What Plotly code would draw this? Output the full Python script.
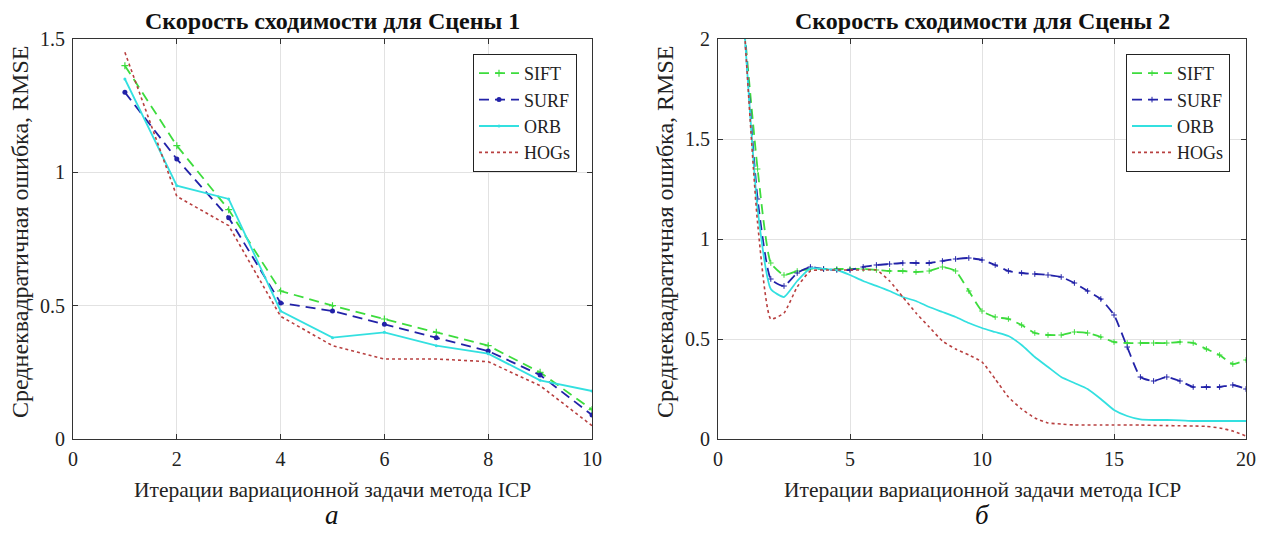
import plotly.graph_objects as go

# ---------------- Scene 1 data ----------------
x1 = [1, 2, 3, 4, 5, 6, 7, 8, 9, 10]
sift1 = [1.40, 1.10, 0.86, 0.555, 0.50, 0.45, 0.40, 0.35, 0.25, 0.11]
surf1 = [1.30, 1.05, 0.83, 0.51, 0.48, 0.43, 0.38, 0.33, 0.24, 0.09]
orb1 = [1.35, 0.95, 0.90, 0.48, 0.38, 0.40, 0.35, 0.32, 0.22, 0.18]
hog1 = [1.45, 0.91, 0.80, 0.46, 0.35, 0.30, 0.30, 0.29, 0.20, 0.05]

# ---------------- Scene 2 data ----------------
x2 = [1, 1.5, 2, 2.5, 3, 3.5, 4, 4.5, 5, 5.5, 6, 6.5, 7, 7.5, 8, 8.5, 9, 9.5, 10,
      10.5, 11, 11.5, 12, 12.5, 13, 13.5, 14, 14.5, 15, 15.5, 16, 16.5, 17, 17.5,
      18, 18.5, 19, 19.5, 20]
sift2 = [2.05, 1.35, 0.88, 0.82, 0.84, 0.85, 0.85, 0.85, 0.85, 0.85, 0.845, 0.84,
         0.84, 0.835, 0.84, 0.86, 0.84, 0.74, 0.64, 0.61, 0.60, 0.57, 0.53, 0.52,
         0.52, 0.535, 0.53, 0.51, 0.485, 0.48, 0.48, 0.48, 0.48, 0.485, 0.48, 0.45,
         0.42, 0.375, 0.395]
surf2 = [2.05, 1.20, 0.80, 0.765, 0.83, 0.86, 0.85, 0.845, 0.845, 0.86, 0.87, 0.875,
         0.88, 0.88, 0.88, 0.89, 0.90, 0.905, 0.895, 0.87, 0.84, 0.83, 0.825, 0.82,
         0.81, 0.78, 0.74, 0.70, 0.62, 0.46, 0.31, 0.29, 0.31, 0.29, 0.26, 0.26,
         0.26, 0.27, 0.25]
orb2 = [2.05, 1.15, 0.75, 0.71, 0.79, 0.853, 0.85, 0.845, 0.82, 0.79, 0.766, 0.74,
        0.71, 0.69, 0.66, 0.635, 0.61, 0.58, 0.555, 0.535, 0.515, 0.47, 0.41, 0.36,
        0.31, 0.28, 0.25, 0.20, 0.145, 0.115, 0.098, 0.095, 0.095, 0.093, 0.09,
        0.09, 0.09, 0.09, 0.09]
hog2 = [2.05, 1.08, 0.60, 0.63, 0.76, 0.84, 0.845, 0.845, 0.845, 0.845, 0.845, 0.79,
        0.71, 0.63, 0.56, 0.49, 0.45, 0.42, 0.385, 0.30, 0.21, 0.15, 0.105, 0.08,
        0.075, 0.07, 0.07, 0.07, 0.07, 0.07, 0.07, 0.068, 0.067, 0.066, 0.065,
        0.063, 0.055, 0.04, 0.015]

names = ["SIFT", "SURF", "ORB", "HOGs"]
titles = ["Скорость сходимости для Сцены 1", "Скорость сходимости для Сцены 2"]
xlabel = "Итерации вариационной задачи метода ICP"
ylabel = "Среднеквадратичная ошибка, RMSE"
panel_labels = ["а", "б"]

colors = {"SIFT": "#3ddc3d", "SURF": "#2222a8", "ORB": "#33e0e0", "HOGs": "#b84040"}
dashes = {"SIFT": "10px,6px", "SURF": "10px,6px", "ORB": "solid", "HOGs": "dot"}

FONT = "Liberation Serif, Times New Roman, serif"

# The page has an 8px body margin; figure is sized to fit within the window.
W, H, OFF = 1250, 524, 8


def px(X):
    return (X - OFF) / W


def py(Y):
    return 1 - (Y - OFF) / H


fig = go.Figure()

left = {"SIFT": sift1, "SURF": surf1, "ORB": orb1, "HOGs": hog1}
lmark = {"SIFT": dict(symbol="cross-thin", size=5, line=dict(width=1.2, color=colors["SIFT"])),
         "SURF": dict(symbol="circle", size=5, color=colors["SURF"]),
         "ORB": dict(symbol="circle", size=3, color=colors["ORB"]),
         "HOGs": None}
for n in names:
    fig.add_trace(go.Scatter(
        x=x1, y=left[n], name=n, xaxis="x", yaxis="y", legend="legend",
        mode="lines+markers" if lmark[n] else "lines",
        line=dict(color=colors[n], width=1.8 if n != "HOGs" else 1.6, dash=dashes[n]),
        marker=lmark[n] if lmark[n] else None,
    ))

right = {"SIFT": sift2, "SURF": surf2, "ORB": orb2, "HOGs": hog2}
for n in names:
    mk = n in ("SIFT", "SURF")
    fig.add_trace(go.Scatter(
        x=x2, y=right[n], name=n, xaxis="x2", yaxis="y2", legend="legend2",
        mode="lines+markers" if mk else "lines",
        line=dict(color=colors[n], width=1.8 if n != "HOGs" else 1.6, dash=dashes[n],
                  shape="spline", smoothing=0.5),
        marker=dict(symbol="cross-thin", size=4, line=dict(width=1, color=colors[n])) if mk else None,
    ))

ydom = [py(439), py(39)]
axis_common = dict(
    showline=True, linecolor="#333", linewidth=1, mirror="ticks",
    ticks="inside", ticklen=5, tickcolor="#333", automargin=False,
    showgrid=True, gridcolor="#e2e2e2", gridwidth=1, zeroline=False,
    tickfont=dict(family=FONT, size=20, color="#222"),
)

legend_common = dict(yanchor="top", xanchor="right", y=py(54),
                     bgcolor="white", bordercolor="#222", borderwidth=1,
                     font=dict(family=FONT, size=18, color="#222"),
                     itemwidth=40, tracegroupgap=0)

fig.update_layout(
    width=W, height=H,
    margin=dict(l=0, r=0, t=0, b=0, autoexpand=False),
    paper_bgcolor="white", plot_bgcolor="white",
    font=dict(family=FONT, color="#222"),
    xaxis=dict(domain=[px(73), px(592)], range=[0, 10], tickvals=[0, 2, 4, 6, 8, 10],
               anchor="y", ticklabelstandoff=2, **axis_common),
    yaxis=dict(domain=ydom, range=[0, 1.5], tickvals=[0, 0.5, 1, 1.5], anchor="x",
               ticklabelstandoff=3, **axis_common),
    xaxis2=dict(domain=[px(718), px(1246)], range=[0, 20], tickvals=[0, 5, 10, 15, 20],
                anchor="y2", ticklabelstandoff=2, **axis_common),
    yaxis2=dict(domain=ydom, range=[0, 2], tickvals=[0, 0.5, 1, 1.5, 2], anchor="x2",
                ticklabelstandoff=3, **axis_common),
    legend=dict(x=px(577), **legend_common),
    legend2=dict(x=px(1230), **legend_common),
)

centers = [px(332), px(982)]
ytitle_x = [px(20), px(665)]
ann = []
for i in range(2):
    ann.append(dict(text="<b>" + titles[i] + "</b>", x=centers[i], y=py(21),
                    xref="paper", yref="paper", showarrow=False,
                    xanchor="center", yanchor="middle",
                    font=dict(family=FONT, size=24, color="#111")))
    ann.append(dict(text=xlabel, x=centers[i], y=py(490),
                    xref="paper", yref="paper", showarrow=False,
                    xanchor="center", yanchor="middle",
                    font=dict(family=FONT, size=21.5, color="#222")))
    ann.append(dict(text=ylabel, x=ytitle_x[i], y=py(232), textangle=-90,
                    xref="paper", yref="paper", showarrow=False,
                    xanchor="center", yanchor="middle",
                    font=dict(family=FONT, size=24, color="#222")))
    ann.append(dict(text="<i>" + panel_labels[i] + "</i>", x=centers[i],
                    y=0, xref="paper", yref="paper", showarrow=False,
                    xanchor="center", yanchor="bottom",
                    font=dict(family=FONT, size=27, color="#111")))
fig.update_layout(annotations=ann)

fig.write_html("out.html")
